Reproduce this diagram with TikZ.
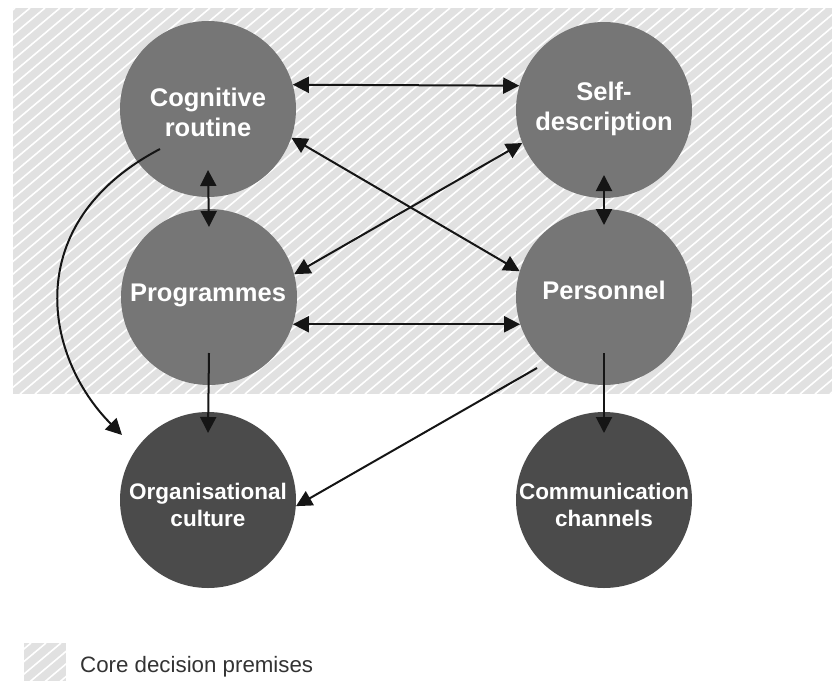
\documentclass[tikz,border=0pt]{standalone}
\usepackage{fontspec}
\setmainfont{Liberation Sans}
\usetikzlibrary{arrows.meta,calc}
\definecolor{hatchbg}{HTML}{E1E1E1}
\definecolor{midgrey}{HTML}{767676}
\definecolor{darkgrey}{HTML}{4B4B4B}
\definecolor{linecol}{HTML}{151515}
\definecolor{legendtext}{HTML}{333333}
\tikzset{
  premise/.style={circle, minimum size=176pt, inner sep=0pt, draw=none, fill=midgrey},
  outcome/.style={circle, minimum size=176pt, inner sep=0pt, draw=none, fill=darkgrey},
  biglbl/.style={inner sep=0pt, align=center, text=white, font=\bfseries\fontsize{25.5}{30}\selectfont},
  smalllbl/.style={inner sep=0pt, align=center, text=white, font=\bfseries\fontsize{22.5}{27}\selectfont},
  conn/.style={draw=linecol, line width=2pt, -{Triangle[length=16pt,width=16pt]}},
  biconn/.style={draw=linecol, line width=2pt, {Triangle[length=16pt,width=16pt]}-{Triangle[length=16pt,width=16pt]}},
  stripe/.style={draw=white, line width=1.6pt}
}
\begin{document}
\begin{tikzpicture}[x=1pt,y=-1pt]
\useasboundingbox (0,0) rectangle (832,680);
% hatched core region
\begin{scope}
  \clip (13,8) rectangle (832,394);
  \fill[hatchbg] (13,8) rectangle (832,394);
  \foreach \i in {-460,-445,...,840} {
    \draw[stripe] (\i,394) -- ++(460,-386);
  }
\end{scope}
% legend swatch
\begin{scope}
  \clip (24,643) rectangle (66,690);
  \fill[hatchbg] (24,643) rectangle (66,690);
  \foreach \i in {-40,-25,...,70} {
    \draw[stripe] (\i,690) -- ++(56,-47);
  }
\end{scope}
\node[anchor=base west, inner sep=0pt, text=legendtext, font=\fontsize{22.3}{26}\selectfont] (legend) at (80,672) {Core decision premises};
% circles
\node[premise] (cog) at (208,109) {};
\node[premise] (self) at (604,110) {};
\node[premise] (prog) at (209,297) {};
\node[premise] (pers) at (604,297) {};
\node[outcome] (org) at (208,500) {};
\node[outcome] (comm) at (604,500) {};
% labels
\node[biglbl] (cogT) at (208,112.7) {Cognitive\\routine};
\node[biglbl] (selfT) at (604,109.4) {Self-\\description};
\node[biglbl] (progT) at (208,295.4) {Programmes};
\node[biglbl] (persT) at (604,290.7) {Personnel};
\node[smalllbl] (orgT) at (208,505.2) {Organisational\\culture};
\node[smalllbl] (commT) at (604,505.2) {Communication\\channels};
% free ends
\coordinate (cogLow) at ($(cog.center)+(0,61)$);
\coordinate (progHigh) at ($(prog.center)+(0,-70)$);
\coordinate (selfLow) at ($(self.center)+(0,65)$);
\coordinate (persHigh) at ($(pers.center)+(0,-72)$);
\coordinate (progLow) at ($(prog.center)+(0,56)$);
\coordinate (orgHigh) at ($(org.center)+(0,-67)$);
\coordinate (persLow) at ($(pers.center)+(0,56)$);
\coordinate (commHigh) at ($(comm.center)+(0,-67)$);
\coordinate (persOut) at ($(pers.center)+(-67,71)$);
\coordinate (curveStart) at ($(cog.center)+(-48,40)$);
\coordinate (curveEnd) at ($(org.center)+(-86,-65)$);
% connectors
\draw[biconn] (cog.16) -- (self.164);
\draw[biconn] (cog.-19) -- (pers.163.5);
\draw[biconn] (self.-158) -- (prog.15);
\draw[biconn] (prog.-18.5) -- (pers.198.5);
\draw[biconn] (cogLow) -- (progHigh);
\draw[biconn] (selfLow) -- (persHigh);
\draw[conn] (progLow) -- (orgHigh);
\draw[conn] (persLow) -- (commHigh);
\draw[conn] (persOut) -- (org.-4);
\draw[conn] (curveStart) .. controls +(-141,74) and +(-78,-78) .. (curveEnd);
\end{tikzpicture}
\end{document}
